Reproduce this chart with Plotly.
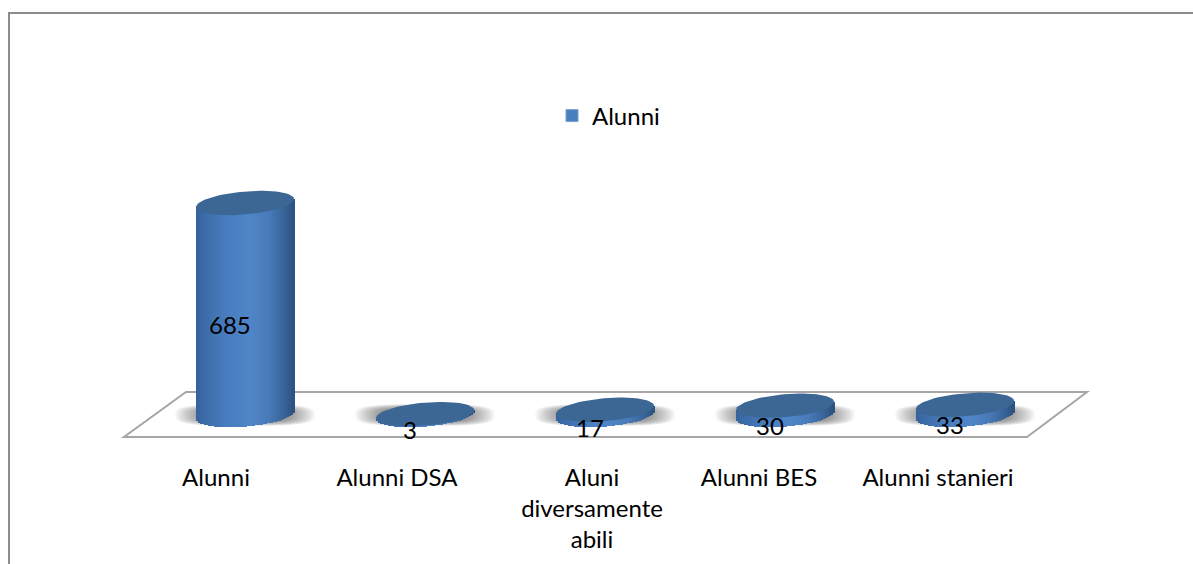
import numpy as np
import plotly.graph_objects as go

categories = ["Alunni", "Alunni DSA", "Aluni<br>diversamente<br>abili", "Alunni BES", "Alunni stanieri"]
values = [685, 3, 17, 30, 33]
series_name = "Alunni"

W, H = 1193, 564
FONT = "Lato"
FONT_SIZE = 24
# plot area, in page pixels
L, R, T, B = 155, 1055, 90, 450
ZERO_Y = 415
PX_PER_UNIT = 212 / 685
ymin = -(B - ZERO_Y) / PX_PER_UNIT
ymax = (ZERO_Y - T) / PX_PER_UNIT
PX_PER_CAT = (R - L) / 5
LABEL_SHIFT_PX = [-29, -28, -13, -26, -27]


def px(xp):
    return (xp - L) / (R - L)


def py(yp):
    return (B - yp) / (B - T)


xs = np.arange(len(categories))
vals = np.array(values, dtype=float)

half_w = 49 / PX_PER_CAT          # cylinder half width, x units
semi_b = 11.5 / PX_PER_UNIT       # ellipse minor semi axis, y units
shear = 4.0 / PX_PER_UNIT         # right end higher than left end

stops = [(0.0, (52, 98, 155)), (0.08, (60, 108, 168)), (0.30, (72, 124, 190)),
         (0.55, (80, 134, 200)), (0.75, (72, 122, 184)), (0.90, (56, 100, 152)),
         (1.0, (44, 82, 126))]


def grad(t):
    pos = [s[0] for s in stops]
    return "rgb(%d,%d,%d)" % tuple(np.interp(t, pos, [s[1][i] for s in stops]) for i in range(3))


fig = go.Figure()

N = 49
edges = np.linspace(-1, 1, N + 1)
for i in range(N):
    u = (edges[i] + edges[i + 1]) / 2
    step = edges[i + 1] - edges[i]
    root = np.sqrt(max(0.0, 1 - u * u))
    base = shear * u - semi_b * root
    fig.add_trace(go.Bar(
        x=xs, y=vals + semi_b * root, base=[base] * len(xs),
        width=half_w * step * 1.3, offset=half_w * (u - step / 2),
        marker=dict(color=grad((u + 1) / 2), line=dict(width=0)),
        name=series_name, showlegend=False, hoverinfo="skip"))

# legend entry
fig.add_trace(go.Bar(x=[None], y=[None], name=series_name, showlegend=True,
                     marker=dict(color="#4a7fc0", line=dict(color="#7f9fc8", width=1))))

# top faces
t = np.linspace(0, 2 * np.pi, 80)
for x0, v in zip(xs, vals):
    fig.add_trace(go.Scatter(
        x=x0 + half_w * np.cos(t), y=v + semi_b * np.sin(t) + shear * np.cos(t),
        mode="lines", fill="toself", fillcolor="#3c6694", line=dict(width=0),
        showlegend=False, hoverinfo="skip"))

shapes = []
# outer frame: its right and bottom edges lie outside the picture
shapes.append(dict(type="rect", xref="paper", yref="paper", x0=px(9), x1=px(1300), y0=py(13), y1=py(700),
                   line=dict(color="#8c8c8c", width=2), fillcolor="white", layer="below"))
# floor
floor = [(124, 437), (1027, 437), (1087, 392), (186, 392)]
path = "M " + " L ".join(f"{px(a):.5f} {py(b):.5f}" for a, b in floor) + " Z"
shapes.append(dict(type="path", xref="paper", yref="paper", path=path,
                   line=dict(color="#a6a6a6", width=2), fillcolor="white", layer="below"))
# soft shadows on the floor
th = np.linspace(0, 2 * np.pi, 48, endpoint=False)
cx = np.sign(np.cos(th)) * np.abs(np.cos(th)) ** 0.6
cy = np.sign(np.sin(th)) * np.abs(np.sin(th)) ** 0.6
for x0 in xs:
    for s in np.linspace(1, 0.6, 20):
        pts = zip(x0 + cx * s * 70 / PX_PER_CAT, cy * s * 11 / PX_PER_UNIT)
        shadow = "M " + " L ".join(f"{a:.4f} {b:.3f}" for a, b in pts) + " Z"
        shapes.append(dict(type="path", xref="x", yref="y", layer="below", path=shadow,
                           fillcolor="rgba(60,60,60,0.035)", line=dict(width=0)))

annotations = [dict(x=x0, y=v / 2, xref="x", yref="y", text=str(int(v)), showarrow=False,
                    xshift=-15, yshift=-15, font=dict(family=FONT, size=FONT_SIZE, color="black"))
               for x0, v in zip(xs, vals)]

fig.update_layout(
    width=W, height=H, autosize=False,
    margin=dict(l=L, r=W - R, t=T, b=H - B, pad=0),
    paper_bgcolor="white", plot_bgcolor="rgba(0,0,0,0)",
    barmode="overlay", bargap=0,
    font=dict(family=FONT, size=FONT_SIZE, color="black"),
    shapes=shapes, annotations=annotations,
    showlegend=True,
    legend=dict(x=px(552), y=py(116), xanchor="left", yanchor="middle",
                bgcolor="rgba(0,0,0,0)", font=dict(family=FONT, size=FONT_SIZE)),
    xaxis=dict(range=[-0.5, 4.5], tickmode="array",
               tickvals=[x0 + d / PX_PER_CAT for x0, d in zip(xs, LABEL_SHIFT_PX)],
               ticktext=categories,
               showgrid=False, zeroline=False, showline=False, ticks="outside", ticklen=6,
               tickcolor="rgba(0,0,0,0)", tickangle=0, tickfont=dict(family=FONT, size=FONT_SIZE)),
    yaxis=dict(range=[ymin, ymax], visible=False),
)

fig.write_html("out.html", config={"displayModeBar": False},
               post_script="document.body.style.margin='0';document.body.style.overflow='hidden';")
